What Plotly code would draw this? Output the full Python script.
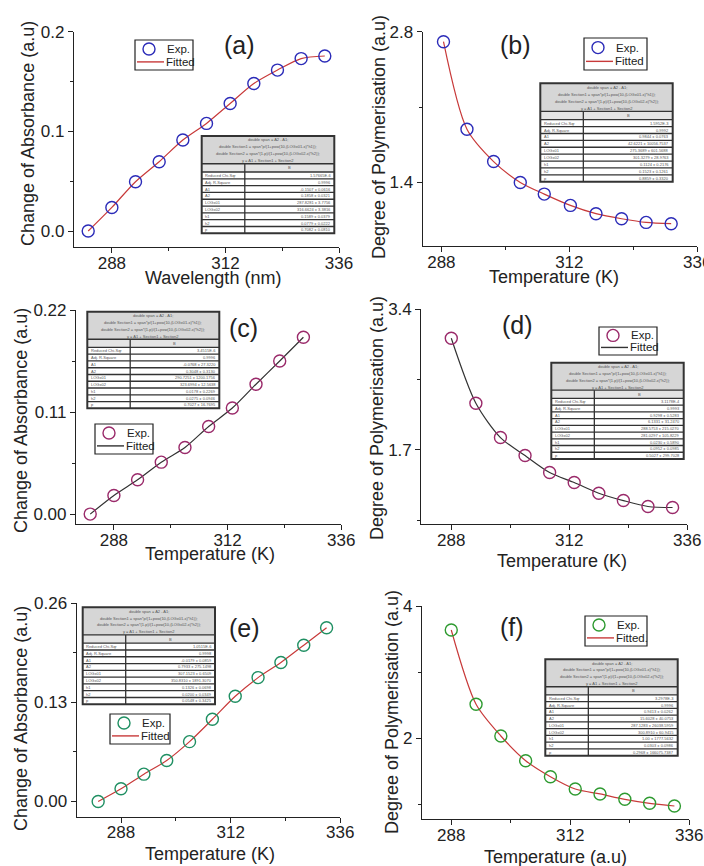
import plotly.graph_objects as go

W, H = 704, 866

# ---------------- data ----------------
x_a = [283, 288, 293, 298, 303, 308, 313, 318, 323, 328, 333]
y_a = [0.0, 0.0237, 0.0495, 0.0696, 0.0913, 0.108, 0.128, 0.148, 0.1615, 0.173, 0.1756]

x_b = [288.4, 292.8, 297.8, 302.8, 307.3, 312.2, 317.0, 321.8, 326.4, 331.1]
y_b = [2.707, 1.894, 1.594, 1.40, 1.292, 1.187, 1.11, 1.063, 1.029, 1.017]

x_c = [283, 288, 293, 298, 303, 308, 313, 318, 323, 328]
y_c = [0.0, 0.0201, 0.037, 0.056, 0.0718, 0.0944, 0.1143, 0.140, 0.165, 0.1906]

x_d = [288, 293, 298, 303, 308, 313, 318, 323, 328, 333]
y_d = [3.05, 2.264, 1.849, 1.632, 1.426, 1.305, 1.176, 1.087, 1.015, 1.003]

x_e = [283, 288, 293, 298, 303, 308, 313, 318, 323, 328, 333]
y_e = [0.0, 0.0166, 0.0358, 0.0537, 0.0785, 0.1078, 0.138, 0.1625, 0.1823, 0.205, 0.228]

x_f = [288, 293, 298, 303, 308, 313, 318, 323, 328, 333]
y_f = [3.637, 2.514, 2.035, 1.662, 1.42, 1.234, 1.159, 1.078, 1.018, 0.977]

x_ticks = [288, 312, 336]
x_minor = [300, 324]

table_header = [
    "double span = A2 - A1;",
    "double Section1 = span*p/(1+pow(10,(LOGx01-x)*h1));",
    "double Section2 = span*(1-p)/(1+pow(10,(LOGx02-x)*h2));",
    "y = A1 + Section1 + Section2",
]
table_rows = ["Reduced Chi-Sqr", "Adj. R-Square", "A1", "A2", "LOGx01", "LOGx02", "h1", "h2", "p"]
vals_a = ["1.57665E-6", "0.9996", "-0.1507 ± 0.0616", "0.1858 ± 0.0321", "287.8281 ± 3.7756",
          "316.6624 ± 3.3816", "0.1589 ± 0.0379", "0.0779 ± 0.0222", "0.7082 ± 0.0810"]
vals_b = ["1.5952E-3", "0.9992", "0.9844 ± 0.0763", "42.6221 ± 10056.7537", "275.3689 ± 601.5688",
          "301.3279 ± 28.9763", "0.1124 ± 0.2176", "0.1523 ± 0.1261", "0.8859 ± 0.3320"]
vals_c = ["3.4515E-6", "0.9996", "-0.0768 ± 27.3220", "0.3048 ± 0.3130", "290.7251 ± 1200.1756",
          "323.6994 ± 12.5638", "0.0178 ± 0.2269", "0.0275 ± 0.0946", "0.7027 ± 16.7695"]
vals_d = ["3.1178E-4", "0.9993", "0.9298 ± 0.5283", "6.1331 ± 31.2470", "288.5753 ± 215.0270",
          "281.0297 ± 105.8229", "0.0230 ± 0.5890", "0.0952 ± 0.0985", "0.5027 ± 299.7028"]
vals_e = ["1.0515E-6", "0.9998", "-0.0179 ± 0.0859", "0.7933 ± 275.1498", "307.1523 ± 0.6509",
          "350.8310 ± 1891.3070", "0.1326 ± 0.0698", "0.0200 ± 0.0349", "0.0548 ± 0.3425"]
vals_f = ["3.2978E-3", "0.9996", "0.9413 ± 0.0262", "15.6028 ± 40.0753", "287.1283 ± 26038.5959",
          "300.8910 ± 60.9415", "1.00 ± 1777.5632", "0.0303 ± 0.0986", "0.2968 ± 166075.7387"]

# ---------------- styles ----------------
FONT = "Liberation Sans, Arial, sans-serif"
BLUE = "#2b2bb8"
RED = "#c83a3a"
PURPLE = "#9a2a6a"
DARK = "#333333"
TEAL = "#1f8f62"
GREEN = "#2e9a30"
INK = "#222222"


def fx(px):
    return px / W


def fy(py):
    return 1 - py / H


panels = [
    dict(x=x_a, y=y_a, mc=BLUE, lc=RED, dom=(74, 339, 31.7, 247), xr=(280, 336), yr=(-0.016, 0.2),
         yt=[0.0, 0.1, 0.2], ytl=["0.0", "0.1", "0.2"], ym=0.05, lab="(a)", lp=(240, 45),
         xt="Wavelength (nm)", xtp=(213, 278), yt_t="Change of Absorbance (a.u)", ytp=(28, 134),
         lg=(135, 40, 58, 30), fit="Fitted", tab=(201.7, 334.3, 136, 233.3), vals=vals_a),
    dict(x=x_b, y=y_b, mc=BLUE, lc=RED, dom=(422.7, 697.3, 31.7, 246), xr=(284.5, 336), yr=(0.81, 2.8),
         yt=[1.4, 2.8], ytl=["1.4", "2.8"], ym=0.7, lab="(b)", lp=(515, 45),
         xt="Temperature (K)", xtp=(554, 277), yt_t="Degree of Polymerisation (a.u)", ytp=(379, 137),
         lg=(584, 38, 63, 32), fit="Fitted", tab=(540.3, 672.7, 83.3, 181.7), vals=vals_b),
    dict(x=x_c, y=y_c, mc=PURPLE, lc=DARK, dom=(76, 341.3, 310, 524.3), xr=(280, 336), yr=(-0.011, 0.22),
         yt=[0.0, 0.11, 0.22], ytl=["0.00", "0.11", "0.22"], ym=0.055, lab="(c)", lp=(243, 328),
         xt="Temperature (K)", xtp=(210, 554), yt_t="Change of Absorbance (a.u)", ytp=(21, 421),
         lg=(95, 424, 58, 30), fit="Fitted", tab=(87.3, 219.3, 311.7, 408.3), vals=vals_c),
    dict(x=x_d, y=y_d, mc=PURPLE, lc=DARK, dom=(421.3, 687.3, 309.3, 524.3), xr=(281.9, 336), yr=(0.80, 3.4),
         yt=[1.7, 3.4], ytl=["1.7", "3.4"], ym=0.85, lab="(d)", lp=(517, 325),
         xt="Temperature (K)", xtp=(562, 561), yt_t="Degree of Polymerisation (a.u)", ytp=(377, 418),
         lg=(599, 327, 58, 28), fit="Fitted", tab=(551.3, 683.7, 362.7, 459), vals=vals_d),
    dict(x=x_e, y=y_e, mc=TEAL, lc=RED, dom=(76.7, 340.3, 603.3, 816.7), xr=(278.3, 336), yr=(-0.02, 0.26),
         yt=[0.0, 0.13, 0.26], ytl=["0.00", "0.13", "0.26"], ym=0.065, lab="(e)", lp=(244, 628),
         xt="Temperature (K)", xtp=(210, 854), yt_t="Change of Absorbance (a.u)", ytp=(21, 719),
         lg=(110, 714, 60, 30), fit="Fitted", tab=(82.7, 215, 607.3, 704.3), vals=vals_e),
    dict(x=x_f, y=y_f, mc=GREEN, lc=RED, dom=(422, 689.3, 606, 819.3), xr=(282.1, 336), yr=(0.776, 4),
         yt=[2, 4], ytl=["2", "4"], ym=1, lab="(f)", lp=(512, 627),
         xt="Temperature (a.u)", xtp=(555, 857), yt_t="Degree of Polymerisation (a.u)", ytp=(392, 712),
         lg=(585, 616, 62, 30), fit="Fitted.", tab=(545.3, 677.7, 659.3, 755.7), vals=vals_f),
]

fig = go.Figure()
layout = dict(
    width=W, height=H, margin=dict(l=0, r=0, t=0, b=0, autoexpand=False),
    paper_bgcolor="white", plot_bgcolor="white",
    font=dict(family=FONT, color=INK),
    showlegend=False, template="none",
)
shapes = []
annotations = []


def pshape(**kw):
    d = dict(xref="paper", yref="paper", layer="above")
    d.update(kw)
    shapes.append(d)


def ptext(text, px, py, size, color=INK, xanchor="center", angle=0):
    annotations.append(dict(text=text, x=fx(px), y=fy(py), xref="paper", yref="paper", showarrow=False,
                            textangle=angle, font=dict(size=size, family=FONT, color=color),
                            xanchor=xanchor, yanchor="middle"))


for i, p in enumerate(panels):
    n = i + 1
    xa = "x" if n == 1 else f"x{n}"
    ya = "y" if n == 1 else f"y{n}"
    xkey = "xaxis" if n == 1 else f"xaxis{n}"
    ykey = "yaxis" if n == 1 else f"yaxis{n}"
    x0, x1, y0, y1 = p["dom"]

    fig.add_trace(go.Scatter(
        x=p["x"], y=p["y"], mode="lines", name=p["fit"],
        line=dict(color=p["lc"], width=1.2, shape="spline", smoothing=0.8),
        xaxis=xa, yaxis=ya,
    ))
    fig.add_trace(go.Scatter(
        x=p["x"], y=p["y"], mode="markers", name="Exp.",
        marker=dict(symbol="circle-open", size=12, color=p["mc"], line=dict(width=1.4, color=p["mc"])),
        xaxis=xa, yaxis=ya, cliponaxis=False,
    ))

    layout[xkey] = dict(
        domain=[fx(x0), fx(x1)], anchor=ya, range=list(p["xr"]), automargin=False,
        tickmode="array", tickvals=x_ticks, ticktext=[str(t) for t in x_ticks],
        ticks="outside", ticklen=5, tickwidth=1, tickcolor=INK, ticklabelstandoff=-5,
        ticklabeloverflow="allow",
        minor=dict(tickmode="array", tickvals=x_minor, ticks="outside", ticklen=3, tickcolor=INK),
        showline=True, linecolor=INK, linewidth=1.2, showgrid=False, zeroline=False,
        tickfont=dict(size=17, family=FONT, color=INK),
    )
    layout[ykey] = dict(
        domain=[fy(y1), fy(y0)], anchor=xa, range=list(p["yr"]), automargin=False,
        tickmode="array", tickvals=p["yt"], ticktext=p["ytl"],
        ticks="outside", ticklen=5, tickwidth=1, tickcolor=INK,
        minor=dict(dtick=p["ym"], tick0=0, ticks="outside", ticklen=3, tickcolor=INK),
        showline=True, linecolor=INK, linewidth=1.2, showgrid=False, zeroline=False,
        tickfont=dict(size=17, family=FONT, color=INK),
    )

    # panel label and axis titles
    ptext(p["lab"], p["lp"][0], p["lp"][1], 25)
    ptext(p["xt"], p["xtp"][0], p["xtp"][1], 18)
    ptext(p["yt_t"], p["ytp"][0], p["ytp"][1], 18, angle=-90)

    # legend box (drawn)
    bx, by, bw, bh = p["lg"]
    pshape(type="rect", x0=fx(bx), x1=fx(bx + bw), y0=fy(by), y1=fy(by + bh),
           fillcolor="white", line=dict(color=INK, width=1.2))
    r1 = by + bh * 0.3
    r2 = by + bh * 0.73
    cx = bx + 14
    rad = 6
    pshape(type="circle", x0=fx(cx - rad), x1=fx(cx + rad), y0=fy(r1 + rad), y1=fy(r1 - rad),
           line=dict(color=p["mc"], width=1.4))
    pshape(type="line", x0=fx(bx + 2), x1=fx(bx + 29), y0=fy(r2), y1=fy(r2),
           line=dict(color=p["lc"], width=1.4))
    ptext("Exp.", bx + 30, r1, 11.5, xanchor="left")
    ptext(p["fit"], bx + 29, r2, 11.5, xanchor="left")

    # inset table
    tx0, tx1, ty0, ty1 = p["tab"]
    th = ty1 - ty0
    hdr_b = ty0 + 0.285 * th
    brow_b = hdr_b + 0.085 * th
    rh = (ty1 - brow_b) / 9
    cdiv = tx0 + 0.325 * (tx1 - tx0)
    pshape(type="rect", x0=fx(tx0), x1=fx(tx1), y0=fy(ty0), y1=fy(hdr_b), fillcolor="#d6d6d6", line=dict(width=0))
    pshape(type="rect", x0=fx(tx0), x1=fx(tx1), y0=fy(hdr_b), y1=fy(ty1), fillcolor="white", line=dict(width=0))
    pshape(type="rect", x0=fx(tx0), x1=fx(tx1), y0=fy(hdr_b), y1=fy(brow_b), fillcolor="#e4e4e4", line=dict(width=0))
    pshape(type="line", x0=fx(tx0), x1=fx(tx1), y0=fy(hdr_b), y1=fy(hdr_b), line=dict(color="#333", width=1.3))
    for k in range(9):
        yy = brow_b + k * rh
        pshape(type="line", x0=fx(tx0), x1=fx(tx1), y0=fy(yy), y1=fy(yy), line=dict(color="#333", width=1.3))
    pshape(type="line", x0=fx(cdiv), x1=fx(cdiv), y0=fy(hdr_b), y1=fy(ty1), line=dict(color="#333", width=1.3))
    pshape(type="rect", x0=fx(tx0), x1=fx(tx1), y0=fy(ty0), y1=fy(ty1), line=dict(color="#333", width=2))
    hh = (hdr_b - ty0) / len(table_header)
    for k, line in enumerate(table_header):
        ptext(line, (tx0 + tx1) / 2, ty0 + hh * (k + 0.55), 4, color="#555")
    ptext("B", (cdiv + tx1) / 2, (hdr_b + brow_b) / 2, 4, color="#555")
    for k, (lab, val) in enumerate(zip(table_rows, p["vals"])):
        yc = brow_b + rh * (k + 0.5)
        ptext(lab, tx0 + 1.5, yc, 4, color="#555", xanchor="left")
        ptext(val, tx1 - 1.5, yc, 4, color="#555", xanchor="right")

layout["shapes"] = shapes
layout["annotations"] = annotations
fig.update_layout(**layout)
fig.write_html(
    "out.html",
    config={"displayModeBar": False},
    post_script="document.body.style.margin='0px';document.body.style.padding='0px';"
                "document.body.style.overflow='hidden';",
)
